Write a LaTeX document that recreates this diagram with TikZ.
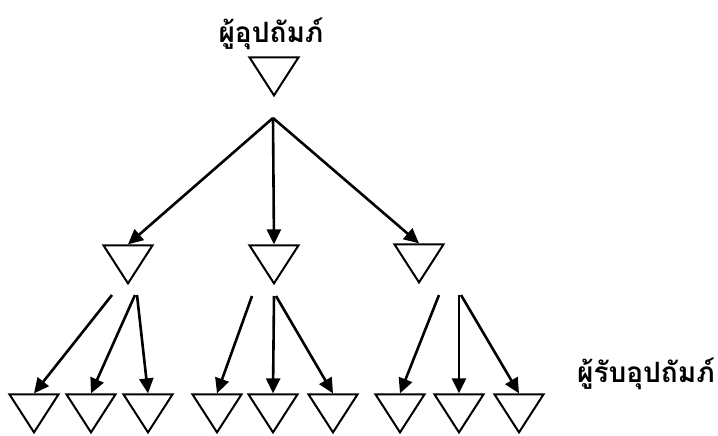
\documentclass[tikz,border=0pt]{standalone}
\usepackage{fontspec}
\newfontfamily\thaifont[Script=Thai]{Loma}
\usetikzlibrary{shapes.geometric,arrows.meta}
\tikzset{tri/.style={isosceles triangle, isosceles triangle stretches, shape border rotate=270,
  draw=black, line width=2pt, minimum width=49pt, minimum height=38pt, inner sep=0pt, anchor=apex},
  arr/.style={line width=2.6pt, -{Triangle[length=15pt,width=14pt]}},
  lbl/.style={font=\thaifont\bfseries\fontsize{28}{30}\selectfont, anchor=base, inner sep=0pt}}
\begin{document}
\begin{tikzpicture}[x=1pt,y=-1pt]
\useasboundingbox (0,0) rectangle (718,436);
\node[tri] (top) at (274,98) {};
\node[tri] (m1) at (128,286) {};
\node[tri] (m2) at (274,286) {};
\node[tri] (m3) at (419,285) {};
\foreach \n/\x in {1/34,2/91,3/148,4/217,5/273,6/333,7/400,8/459,9/519}
  \node[tri] (b\n) at (\x,435) {};
\node[lbl] (giver) at (271,43) {ผู้อุปถัมภ์};
\node[lbl] (taker) at (646,382) {ผู้รับอุปถัมภ์};
\coordinate (r) at (273,118);
\draw[arr] (r) -- (m1.lower side);
\draw[arr] (r) -- (m2.lower side);
\draw[arr] (r) -- (m3.lower side);
\coordinate (s1) at (112,295);
\coordinate (s2) at (135,295);
\coordinate (s3) at (137,295);
\coordinate (s4) at (252,296);
\coordinate (s5) at (274,296);
\coordinate (s6) at (276,296);
\coordinate (s7) at (439,295);
\coordinate (s8) at (459,295);
\coordinate (s9) at (461,295);
\foreach \n in {1,...,9}
  \draw[arr] (s\n) -- (b\n.lower side);
\end{tikzpicture}
\end{document}
